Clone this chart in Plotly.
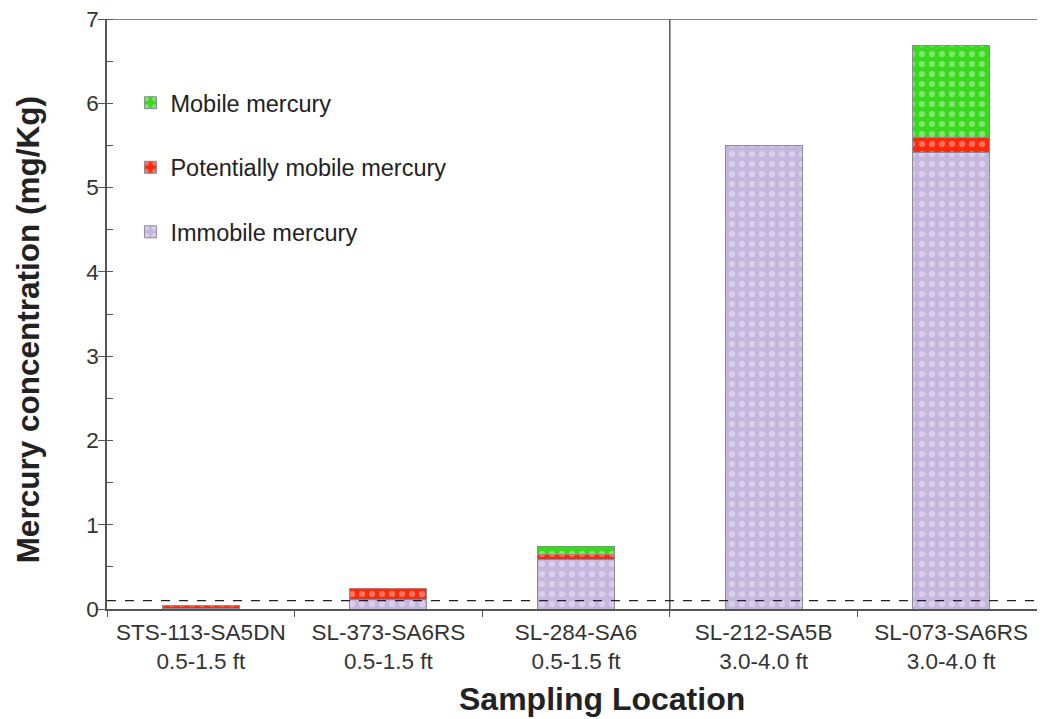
import plotly.graph_objects as go

locations = ["STS-113-SA5DN", "SL-373-SA6RS", "SL-284-SA6", "SL-212-SA5B", "SL-073-SA6RS"]
depths = ["0.5-1.5 ft", "0.5-1.5 ft", "0.5-1.5 ft", "3.0-4.0 ft", "3.0-4.0 ft"]
immobile = [0.005, 0.11, 0.59, 5.50, 5.42]
potentially_mobile = [0.035, 0.13, 0.06, 0.0, 0.17]
mobile = [0.0, 0.0, 0.09, 0.0, 1.09]
threshold = 0.1
y_ticks = [0, 1, 2, 3, 4, 5, 6, 7]

cats = [f"{a}<br>{b}" for a, b in zip(locations, depths)]

series = [
    ("Immobile mercury", immobile, "#c5b6de", 3),
    ("Potentially mobile mercury", potentially_mobile, "#ff2a0a", 2),
    ("Mobile mercury", mobile, "#3ad81e", 1),
]

fig = go.Figure()
for name, vals, col, rank in series:
    fig.add_trace(go.Bar(
        x=cats, y=vals, name=name, legendgroup=name, legendrank=rank,
        marker=dict(color=col, line=dict(color="#8a8a9a", width=1),
                    pattern=dict(shape=".", fillmode="overlay", fgcolor="white",
                                 fgopacity=0.35, size=10, solidity=0.3)),
        width=0.41,
    ))

# page body has an 8px margin, so the figure is 8px smaller and shifted
fig.update_layout(
    barmode="stack",
    width=1037, height=711,
    margin=dict(l=99, r=0, t=11, b=110),
    paper_bgcolor="white", plot_bgcolor="white",
    font=dict(family="Arial, Liberation Sans, sans-serif", color="#333333"),
    showlegend=True,
    legend=dict(x=0.025, y=0.895, xanchor="left", yanchor="top",
                traceorder="grouped", tracegroupgap=31,
                font=dict(size=23.5, color="#222222"), bgcolor="rgba(0,0,0,0)",
                itemwidth=30),
    xaxis=dict(
        type="category", tickson="boundaries", ticks="outside", ticklen=6,
        tickcolor="#555555", showline=True, linecolor="#555555", linewidth=1.5,
        tickfont=dict(size=22.5, color="#333333"), showgrid=False, automargin=False,
        ticklabelstandoff=2,
    ),
    yaxis=dict(
        range=[0, 7], tickvals=y_ticks, ticks="outside", ticklen=7, tickcolor="#555555",
        showline=True, linecolor="#555555", linewidth=1.5, showgrid=False, zeroline=False,
        tickfont=dict(size=22.5, color="#333333"), automargin=False,
        ticklabeloverflow="allow", ticklabelstandoff=-5,
        minor=dict(dtick=0.5, ticks="inside", ticklen=6, tickcolor="#555555", showgrid=False),
    ),
)

# axis titles
fig.add_annotation(text="<b>Sampling Location</b>", xref="paper", yref="paper",
                   x=0.528, y=-0.153, xanchor="center", yanchor="middle", showarrow=False,
                   font=dict(size=32, color="#222222"))
fig.add_annotation(text="<b>Mercury concentration (mg/Kg)</b>", xref="paper", yref="paper",
                   x=-0.084, y=0.4726, xanchor="center", yanchor="middle", showarrow=False,
                   textangle=-90, font=dict(size=31.5, color="#222222"))

# top frame line
fig.add_shape(type="line", xref="paper", yref="y", x0=0, x1=1, y0=7, y1=7,
              line=dict(color="#555555", width=1.5))
# divider between depth groups
fig.add_shape(type="line", xref="x", yref="y", x0=2.5, x1=2.5, y0=0, y1=7,
              line=dict(color="#555555", width=1.5))
# threshold dashed line
fig.add_shape(type="line", xref="paper", yref="y", x0=0, x1=1, y0=threshold, y1=threshold,
              line=dict(color="#222222", width=1.3, dash="dash"), layer="above")

fig.write_html("out.html")
